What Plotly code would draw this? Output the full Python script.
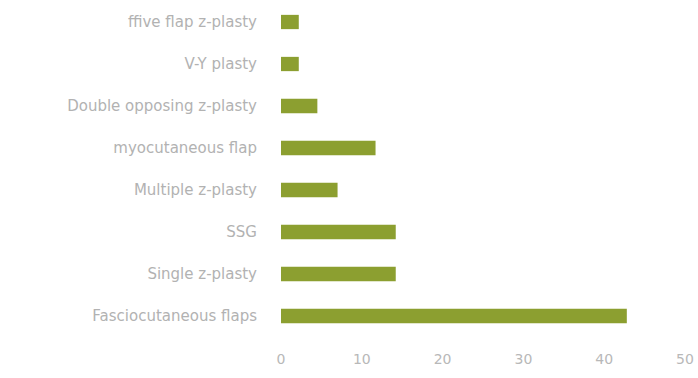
import plotly.graph_objects as go

categories = ["Fasciocutaneous flaps", "Single z-plasty", "SSG", "Multiple z-plasty",
              "myocutaneous flap", "Double opposing z-plasty", "V-Y plasty", "ffive flap z-plasty"]
values = [42.8, 14.2, 14.2, 7, 11.7, 4.5, 2.2, 2.2]
x_ticks = [0, 10, 20, 30, 40, 50]

fig = go.Figure(go.Bar(
    y=categories, x=values, orientation="h",
    marker=dict(color="#8c9f30", line=dict(width=0)),
    width=0.34,
))
fig.update_layout(
    width=698, height=378,
    margin=dict(l=281, r=13, t=1, b=41),
    paper_bgcolor="white", plot_bgcolor="white",
    showlegend=False,
    font=dict(family="DejaVu Sans", color="#b0b0b0"),
)
fig.update_xaxes(range=[0, 50], tickvals=x_ticks, showgrid=False, zeroline=False,
                 showline=False, tickfont=dict(size=14, color="#b8b8b8"),
                 ticks="outside", ticklen=9, tickcolor="rgba(0,0,0,0)")
fig.update_yaxes(showgrid=False, zeroline=False, showline=False,
                 tickfont=dict(size=15, color="#b2b2b2"),
                 ticks="outside", ticklen=20, tickcolor="rgba(0,0,0,0)")
fig.write_html("out.html")
